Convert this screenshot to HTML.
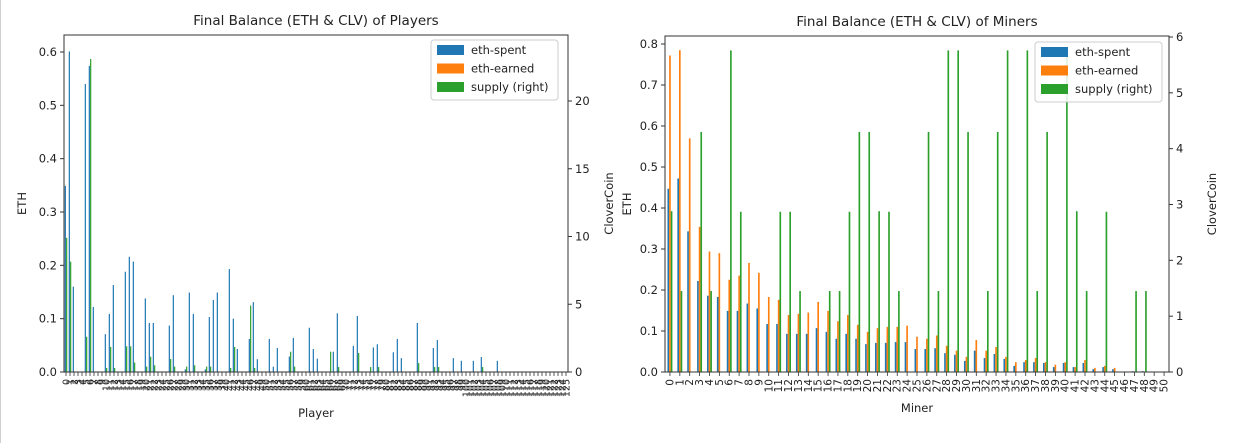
<!DOCTYPE html>
<html><head><meta charset="utf-8">
<style>
html,body{margin:0;padding:0;background:#fff;}
body{width:1239px;height:443px;overflow:hidden;border-left:1px solid #d0d0d0;box-sizing:border-box;}
svg text{font-family:"DejaVu Sans","Liberation Sans",sans-serif;fill:#222;}
</style></head>
<body>
<svg id="fig" width="1238" height="443" viewBox="0 0 1238 443" xmlns="http://www.w3.org/2000/svg"></svg>
<script>
// ---- Players data ----
const playerCount = 126;
const playerSpentIdx = [0,1,2,5,6,7,10,11,12,15,16,17,20,21,22,26,27,30,31,32,35,36,37,38,41,42,43,46,47,48,51,52,53,56,57,61,62,63,67,68,72,73,77,78,82,83,84,88,92,93,97,99,102,104,108];
const playerSpentVal = [0.349,0.601,0.16,0.54,0.574,0.122,0.071,0.109,0.163,0.188,0.216,0.207,0.138,0.092,0.092,0.087,0.144,0.005,0.149,0.109,0.005,0.103,0.135,0.149,0.193,0.1,0.043,0.062,0.131,0.024,0.062,0.01,0.045,0.029,0.064,0.083,0.043,0.025,0.038,0.11,0.049,0.105,0.046,0.052,0.037,0.062,0.026,0.092,0.045,0.06,0.026,0.021,0.021,0.028,0.021];
const playerSupplyIdx = [0,1,5,6,10,11,12,15,16,17,20,21,22,26,27,30,32,35,36,41,42,46,47,56,57,66,68,73,76,78,88,92,93,104];
const playerSupplyVal = [9.9,8.14,2.6,23.1,0.3,1.85,0.3,1.9,1.9,0.7,0.4,1.13,0.5,0.96,0.4,0.4,0.5,0.4,0.4,0.3,1.85,4.9,0.3,1.5,0.4,1.5,0.37,1.4,0.37,0.37,0.66,0.37,0.37,0.37];
const playerLeftTicks = [0,0.1,0.2,0.3,0.4,0.5,0.6];
const playerRightTicks = [0,5,10,15,20];

// ---- Miners data ----
const minerSpent = [0.447,0.472,0.343,0.222,0.186,0.183,0.149,0.149,0.167,0.155,0.117,0.117,0.093,0.093,0.093,0.107,0.098,0.081,0.093,0.081,0.068,0.071,0.071,0.073,0.073,0.056,0.056,0.058,0.046,0.042,0.027,0.052,0.034,0.044,0.032,0.015,0.024,0.024,0.022,0.012,0.022,0.012,0.022,0.007,0.012,0.007,0,0.002,0.002,0,0];
const minerEarned = [0.772,0.785,0.57,0.354,0.294,0.29,0.225,0.235,0.266,0.242,0.183,0.176,0.139,0.142,0.145,0.171,0.149,0.124,0.139,0.115,0.098,0.107,0.11,0.11,0.113,0.086,0.081,0.089,0.064,0.052,0.037,0.078,0.052,0.061,0.037,0.024,0.029,0.034,0.024,0.018,0.024,0.012,0.029,0.01,0.015,0.01,0,0,0,0,0];
const minerSupply = [2.88,1.45,0,4.3,1.45,0,5.76,2.87,0,0,0,2.87,2.87,1.45,0,0,1.45,1.45,2.87,4.3,4.3,2.88,2.87,1.45,0,0,4.3,1.45,5.76,5.76,4.3,0,1.45,4.3,5.76,0,5.76,1.45,4.3,0,5.76,2.88,1.45,0,2.87,0,0,1.45,1.45,0,0];
const minerLeftTicks = [0,0.1,0.2,0.3,0.4,0.5,0.6,0.7,0.8];
const minerRightTicks = [0,1,2,3,4,5,6];

const C = {spent:'#1f77b4', earned:'#ff7f0e', supply:'#2ca02c'};
const svg = document.getElementById('fig');
const NS = 'http://www.w3.org/2000/svg';
function mk(tag, attrs, parent){
  const e = document.createElementNS(NS, tag);
  for (const k in attrs) e.setAttribute(k, attrs[k]);
  (parent||svg).appendChild(e);
  return e;
}
function txt(s, attrs, parent){ const t = mk('text', attrs, parent); t.textContent = s; return t; }

function chart(o){
  const g = mk('g', {});
  
  
  const L=o.left,R=o.right,T=o.top,B=o.bottom,N=o.n;
  const step=(R-L)/N;
  const xC = i => L + (i+0.5)*step;
  const yL = v => B - v*(B-T)/o.lmax;
  const yR = v => B - v*(B-T)/o.rmax;
  const bw = step/6;
  const dw = Math.max(bw, 1.2);
  function bar(i, v, off, color, yfun, nm){
    if (!v) return;
    const y = yfun(v);
    const r = mk('rect', {x: xC(i)+off*bw - dw/2, y: y, width: dw, height: B-y, fill: color}, g);
    
    
  }
  o.bars(bar, yL, yR);
  const fr = mk('rect', {x:L, y:T, width:R-L, height:B-T, fill:'none', stroke:'#333', 'stroke-width':1}, g);
  
  
  o.lticks.forEach(v=>{
    const y=yL(v);
    mk('line',{x1:L-4,x2:L,y1:y,y2:y,stroke:'#333'},g);
    const t = txt(v.toFixed(1),{x:L-7,y:y+4,'font-size':11.5,'text-anchor':'end'},g);
    
    
  });
  o.rticks.forEach(v=>{
    const y=yR(v);
    mk('line',{x1:R,x2:R+4,y1:y,y2:y,stroke:'#333'},g);
    const t = txt(String(v),{x:R+7,y:y+4,'font-size':11.5},g);
    
    
  });
  for (let i=0;i<N;i++){
    const x=xC(i);
    mk('line',{x1:x,x2:x,y1:B,y2:B+4,stroke:'#333','stroke-width':0.8},g);
    const t = txt(String(i),{x:0,y:0,'font-size':o.xfs,'text-anchor':'end',transform:`translate(${x+3.5},${B+7}) rotate(-90)`},g);
    
    
  }
  const tt = txt(o.title,{x:(L+R)/2,y:T-10,'font-size':13.5,'text-anchor':'middle'},g);
  
  
  const xl = txt(o.xlabel,{x:(L+R)/2,y:o.xlabelY,'font-size':11.5,'text-anchor':'middle'},g);
  
  
  const yl = txt('ETH',{x:0,y:0,'font-size':11.5,'text-anchor':'middle',transform:`translate(${o.ylabelX},${(T+B)/2}) rotate(-90)`},g);
  
  
  const y2 = txt('CloverCoin',{x:0,y:0,'font-size':11.5,'text-anchor':'middle',transform:`translate(${o.y2labelX},${(T+B)/2}) rotate(-90)`},g);
  
  
  const lg = mk('g',{},g);
  
  
  mk('rect',{x:o.legX,y:o.legY,width:127,height:60,rx:3,fill:'#fff','fill-opacity':0.85,stroke:'#ccc'},lg);
  [['eth-spent',C.spent],['eth-earned',C.earned],['supply (right)',C.supply]].forEach((e,k)=>{
    const yy=o.legY+10+k*18.5;
    const sw = mk('rect',{x:o.legX+6,y:yy-5,width:27,height:10,fill:e[1]},lg);
    
    
    const lt = txt(e[0],{x:o.legX+40,y:yy+4,'font-size':11.5},lg);
    
    
  });
}

chart({name:'players-chart',left:63,right:567,top:35,bottom:372,n:playerCount,lmax:0.6*(372-35)/(372-52),rmax:20*(372-35)/(372-101),xfs:9.5,
  lticks:playerLeftTicks,rticks:playerRightTicks,title:'Final Balance (ETH & CLV) of Players',xlabel:'Player',xlabelY:417,ylabelX:25,y2labelX:612,legX:430,legY:40,
  bars:(bar,yL,yR)=>{
    playerSpentIdx.forEach((i,k)=>bar(i,playerSpentVal[k],-1,C.spent,yL,'bar-eth-spent'));
    playerSupplyIdx.forEach((i,k)=>bar(i,playerSupplyVal[k],1,C.supply,yR,'bar-supply'));
  }});

chart({name:'miners-chart',left:664,right:1168,top:36,bottom:372,n:minerSpent.length,lmax:0.8*(372-36)/(372-44),rmax:6*(372-36)/(372-37),xfs:10.5,
  lticks:minerLeftTicks,rticks:minerRightTicks,title:'Final Balance (ETH & CLV) of Miners',xlabel:'Miner',xlabelY:412,ylabelX:630,y2labelX:1215,legX:1034,legY:42,
  bars:(bar,yL,yR)=>{
    minerSpent.forEach((v,i)=>bar(i,v,-1,C.spent,yL,'bar-eth-spent'));
    minerEarned.forEach((v,i)=>bar(i,v,0,C.earned,yL,'bar-eth-earned'));
    minerSupply.forEach((v,i)=>bar(i,v,1,C.supply,yR,'bar-supply'));
  }});
</script>
</body></html>
